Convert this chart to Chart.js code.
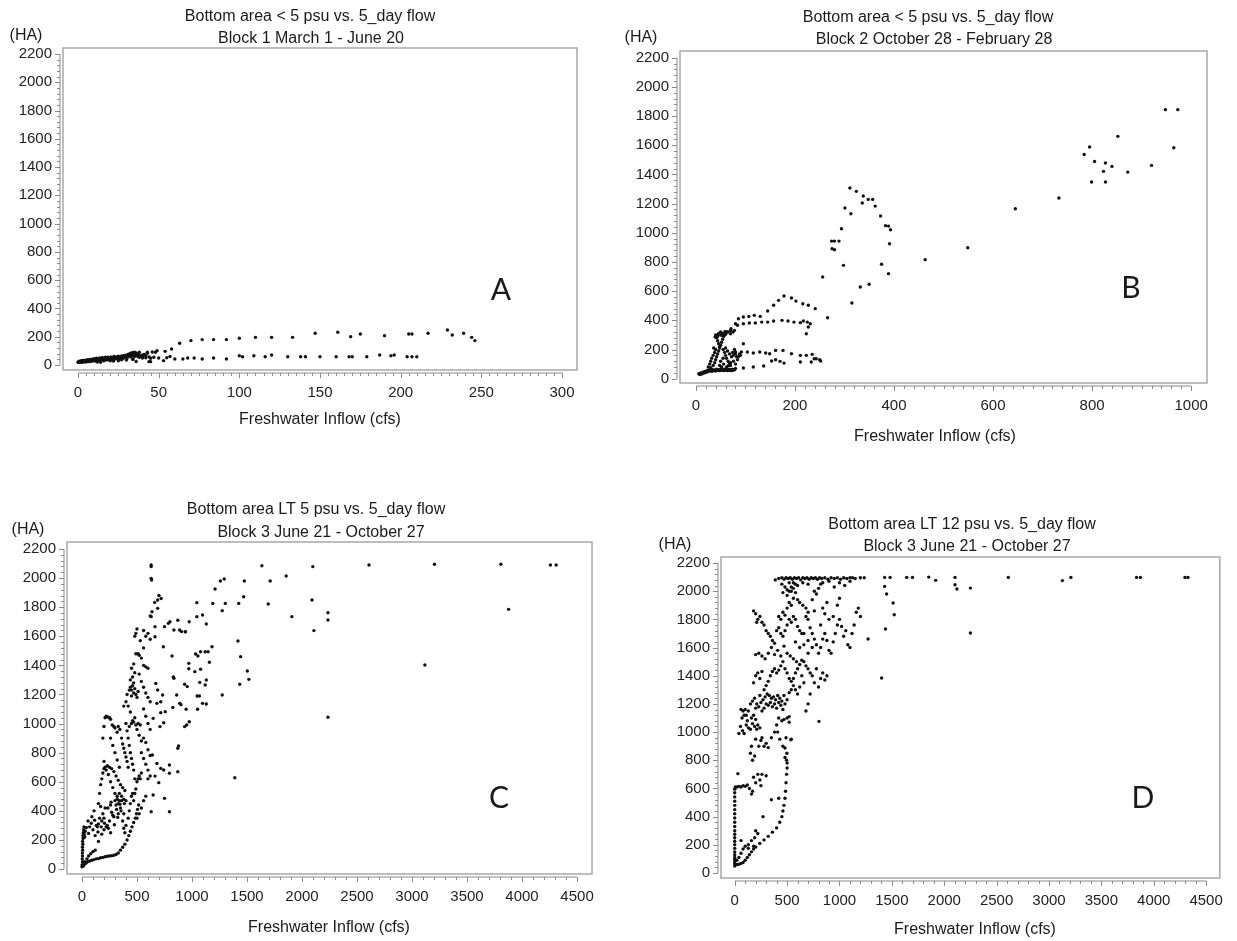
<!DOCTYPE html>
<html lang="en">
<head>
<meta charset="UTF-8">
<title>Bottom area vs. 5_day flow</title>
<style>
  body { margin: 0; background: #fff; }
  #wrap { position: relative; width: 1237px; height: 941px; }
  .panel { position: absolute; }
</style>
</head>
<body>
<div id="wrap">
  <div class="panel" style="left:0;top:0;width:618px;height:470px"><canvas id="chartA"></canvas></div>
  <div class="panel" style="left:618px;top:0;width:619px;height:470px"><canvas id="chartB"></canvas></div>
  <div class="panel" style="left:0;top:470px;width:618px;height:471px"><canvas id="chartC"></canvas></div>
  <div class="panel" style="left:618px;top:470px;width:619px;height:471px"><canvas id="chartD"></canvas></div>
</div>

<script src="https://cdn.jsdelivr.net/npm/chart.js"></script>
<script>
// tick labels
const yTicks = [0, 200, 400, 600, 800, 1000, 1200, 1400, 1600, 1800, 2000, 2200];
const xTicksA = [0, 50, 100, 150, 200, 250, 300];
const xTicksB = [0, 200, 400, 600, 800, 1000];
const xTicksC = [0, 500, 1000, 1500, 2000, 2500, 3000, 3500, 4000, 4500];

// [flow (cfs), area (HA)]
const pointsA = [
  [0,20],[0.5,25],[1,18],[1,28],[1.5,22],[2,30],[2,24],[2.5,19],[3,27],[3,33],[3.5,22],[4,30],[4,25],[4.5,35],[5,28],[5,22],
  [5.5,32],[6,38],[6,26],[6.5,30],[7,35],[7,24],[7.5,40],[8,30],[8,36],[8.5,27],[9,42],[9,33],[9.5,38],[10,30],[10,45],[10.5,36],
  [11,40],[11,28],[11.5,48],[12,35],[12,42],[12.5,30],[13,45],[13,38],[13.5,50],[14,33],[14,42],[14.5,47],[15,38],[15,52],[15.5,44],
  [16,30],[16,48],[16.5,40],[17,55],[17,45],[17.5,36],[18,50],[18,42],[18.5,56],[19,47],[19,38],[20,52],[20,44],[20.5,58],[21,48],
  [21,40],[22,55],[22,46],[22.5,60],[23,50],[23,42],[24,57],[24,48],[25,62],[25,52],[25.5,44],[26,58],[26,50],[27,64],[27,54],
  [28,60],[28,48],[28.5,68],[29,56],[29,63],[30,70],[30,58],[30.5,50],[31,75],[31,64],[32,80],[32,68],[32.5,58],[33,85],[33,74],
  [33.5,66],[34,88],[34,78],[34.5,70],[35,90],[35,82],[35,60],[36,86],[36,72],[37,78],[37,62],[38,70],[38,58],[39,64],[40,60],
  [40,72],[42,66],[44,58],[20,30],[25,30],[30,35],[14,20],[22,28],[34,40],[36,25],[45,24],[27,38],[12,22],
  [38,90],[43,83],[46,92],[49,102],[41,75],[38,55],[40,50],[42,52],[45,48],[47,55],[50,50],[55,52],[57,60],
  [43,90],[48,90],[54,97],[58,114],[63,154],[70,173],[77,180],[84,180],[92,180],[100,190],[110,196],[120,196],[133,196],
  [147,225],[161,232],[169,201],[175,220],[190,208],[205,220],[207,220],[217,225],[229,248],[232,213],[239,225],[244,196],[246,173],
  [34,43],[44,24],[53,31],[60,43],[65,43],[68,50],[72,50],[77,43],[84,50],[92,43],[100,66],[102,59],[109,66],[116,59],[120,71],
  [130,59],[138,59],[141,59],[150,59],[160,59],[168,59],[170,59],[179,59],[187,71],[194,66],[196,71],[204,59],[207,59],[210,59]
];

const pointsB = [
  [6,34],[8,28],[10,40],[12,32],[14,45],[16,38],[18,50],[20,42],[22,55],[24,48],[26,60],[28,52],[30,58],[32,50],[34,62],[36,55],
  [38,60],[40,52],[42,65],[44,58],[46,62],[48,55],[50,65],[52,58],[54,62],[56,55],[58,65],[60,58],[62,62],[64,55],[66,65],[68,58],
  [70,62],[72,55],[74,65],[76,58],[78,62],[80,70],[30,75],[35,90],[38,110],[40,130],[42,150],[44,170],[46,190],[48,210],[50,230],
  [52,250],[54,270],[56,290],[58,300],[40,300],[42,280],[44,260],[46,240],[48,220],[44,290],[46,310],[50,320],[54,310],[60,305],
  [65,320],[70,330],[75,320],[25,80],[28,100],[30,120],[32,140],[35,160],[38,180],[40,200],[36,210],[55,200],[58,180],[60,160],
  [62,140],[65,120],[68,100],[70,90],[72,150],[74,180],[76,160],[78,200],[80,170],[82,150],[60,210],[64,190],[68,170],[55,140],
  [50,120],[48,90],[52,80],[56,100],[62,80],[66,90],[70,110],[76,120],[80,100],[84,130],[86,150],[88,170],[90,160],
  [178,567],[193,553],[202,532],[216,514],[227,503],[241,480],[167,537],[157,503],[145,464],[130,427],[118,434],[107,427],[96,423],
  [86,411],[80,377],[71,343],[63,320],[53,308],[44,297],[39,286],
  [84,366],[96,377],[108,382],[120,382],[133,388],[145,388],[157,395],[174,400],[186,395],[198,388],[211,384],[217,395],[225,388],
  [231,377],[227,354],[223,308],[59,324],[51,297],[70,308],[78,331],
  [96,240],[80,183],[92,183],[104,183],[116,176],[129,183],[141,176],[149,171],[161,194],[176,194],[193,171],[211,160],[223,160],
  [235,167],[243,137],[250,130],[252,121],[239,137],[233,114],[211,114],[178,107],[170,119],[161,130],[153,121],[137,87],[116,80],[96,73],
  [311,1307],[324,1284],[338,1252],[336,1204],[348,1229],[357,1229],[362,1183],[301,1170],[313,1131],[373,1115],[383,1049],[389,1046],
  [393,1021],[294,1028],[274,943],[280,943],[289,943],[275,891],[280,884],[391,925],[298,777],[375,784],[389,720],[256,697],[332,628],
  [350,647],[315,519],[266,418],
  [948,1844],[973,1844],[852,1661],[795,1588],[965,1583],[784,1537],[805,1489],[827,1478],[840,1455],[920,1462],[823,1421],[872,1416],
  [799,1348],[827,1348],[733,1238],[645,1165],[549,898],[463,816]
];

const pointsC = [
  [0,15],[2,30],[5,50],[3,70],[5,90],[4,110],[6,130],[5,150],[8,170],[6,190],[10,210],[8,230],[12,250],[15,270],[18,290],[20,240],
  [25,220],[30,260],[10,20],[20,30],[35,40],[50,50],[70,55],[90,60],[110,65],[130,70],[150,72],[170,78],[190,80],[210,85],[230,88],
  [250,90],[270,92],[290,95],[310,100],[330,110],[350,130],[370,150],[390,170],[410,200],[425,230],[440,260],[455,290],[470,320],
  [485,350],[495,380],[505,410],[515,440],[25,50],[45,70],[60,90],[80,105],[100,120],[120,130],
  [40,285],[55,330],[70,290],[85,315],[100,270],[115,335],[130,300],[145,255],[160,350],[175,290],[190,380],[205,315],[220,290],
  [235,420],[250,330],[265,460],[280,370],[295,305],[310,440],[325,355],[340,470],[355,400],[370,330],[385,450],[60,245],[90,360],
  [120,230],[150,310],[180,240],[210,420],[240,280],[270,390],[300,470],[330,380],[110,400],[140,290],[170,430],[200,350],[230,300],
  [260,440],[290,360],[320,480],[350,420],[380,380],[150,190],[180,330],[200,270],[260,250],[345,445],[360,470],[330,450],[315,410],
  [150,450],[160,520],[170,580],[180,620],[190,660],[200,690],[210,700],[230,710],[250,700],[270,690],[290,670],[310,640],[330,610],
  [350,580],[370,560],[390,540],[200,740],[220,680],[240,650],[260,600],[280,560],[300,520],[320,500],[340,520],[360,500],[380,480],
  [400,470],[190,900],[200,980],[210,1040],[220,1050],[235,1045],[250,1040],[260,1030],[275,990],[290,980],[300,970],[320,940],
  [330,980],[345,960],[360,900],[370,860],[380,830],[390,800],[400,770],[410,740],[420,700],[260,900],[280,850],[300,800],[320,750],[340,700],
  [420,350],[430,400],[440,450],[450,500],[460,520],[470,470],[480,520],[490,550],[500,600],[510,620],[520,640],[530,620],[540,660],
  [480,620],[470,680],[460,720],[450,760],[440,800],[430,850],[420,900],[410,950],[400,1000],[430,980],[450,1000],[470,1010],[490,990],
  [510,1000],[530,990],[460,1020],[480,1040],[500,960],[520,920],[540,880],[560,900],[580,870],[600,820],[620,780],[440,1080],[420,1120],
  [400,1150],[380,1120],[410,1200],[430,1230],[440,1250],[450,1230],[460,1260],[470,1210],[480,1240],[490,1200],[500,1180],[510,1220],
  [450,1190],[470,1280],[440,1300],[460,1320],[480,1350],[450,1380],[470,1410],[490,1480],[510,1480],[520,1470],[480,1600],[500,1650],
  [490,1620],[530,1570],[560,1640],[580,1600],[600,1620],[620,1580],[560,1520],[540,1450],[560,1400],[580,1390],[600,1380],[520,1340],
  [540,1290],[560,1250],[580,1210],[600,1180],[620,1150],[560,1100],[580,1050],[600,1000],[620,960],[540,800],[560,760],[580,720],
  [600,680],[620,640],[600,620],[580,500],[560,470],[540,420],[520,380],[500,350],[400,300],[390,250],[380,280],
  [620,1740],[629,2079],[629,2090],[629,1998],[633,1987],[700,1880],[720,1860],[800,1700],[940,1630],[830,1320],[900,1130],
  [4310,2090],[4258,2090],[3808,2095],[3204,2095],[2609,2090],[2098,2079],[1635,2085],[1856,2014],[1711,1980],[1476,1980],[1293,1994],
  [1258,1980],[1210,1925],[3878,1785],[2091,1849],[2236,1762],[2236,1712],[1908,1735],[2108,1639],[3117,1403],[2236,1043],[1389,628],
  [1693,1822],[1470,1872],[1425,1826],[1303,1826],[1189,1826],[1044,1831],[1275,1776],[1096,1746],[1044,1735],[1130,1684],[1418,1568],
  [1442,1460],[1434,1270],[1503,1361],[1517,1304],[1275,1196],[1182,1528],[1147,1494],[1078,1494],[1120,1494],[1158,1421],[1033,1478],
  [1054,1464],[971,1414],[971,1377],[1026,1357],[1078,1373],[1130,1299],[1120,1265],[1071,1283],[1068,1189],[1047,1189],[1096,1139],
  [1130,1134],[1051,1098],[933,1270],[957,1254],[947,1098],[975,1013],[951,990],[933,979],[878,846],[871,830],[871,669],[861,1196],
  [888,1139],[836,1311],[826,1111],[819,1464],[871,1710],[888,1643],[905,1632],[940,1632],[975,1700],[836,1643],[785,1689],[750,1666],
  [740,1528],[664,1666],[688,1792],[661,1833],[636,1769],[629,1735],[688,1849],[664,1597],[671,1276],[688,1231],[681,1139],[733,1196],
  [716,1150],[716,1075],[757,1082],[743,1006],[709,979],[647,1036],[640,784],[681,726],[647,509],[629,394],[716,692],[743,681],[750,486],
  [795,394],[795,715],[795,658],[698,594],[664,639]
];

const pointsD = [
  [0,50],[0,65],[0,80],[0,95],[0,110],[0,130],[0,150],[0,175],[0,200],[0,225],[0,250],[0,275],[0,300],[0,330],[0,360],[0,390],
  [0,420],[0,450],[0,480],[0,510],[0,540],[0,570],[0,595],[5,610],
  [20,60],[40,62],[60,68],[80,75],[100,90],[120,110],[140,130],[160,150],[180,170],[200,185],[240,210],[280,235],[320,260],[360,290],
  [400,320],[430,360],[450,400],[460,440],[470,480],[480,530],[485,580],[490,640],[495,700],[500,745],[495,800],[498,850],[480,887],
  [535,946],[500,780],[20,90],[40,110],[60,140],[80,170],[100,190],[130,200],[160,230],[190,250],[220,280],[60,230],[130,175],[180,190],
  [270,400],[200,300],[20,610],[40,615],[60,610],[80,620],[100,615],[120,625],[30,705],[140,600],[160,560],[170,580],[200,640],[220,700],
  [240,660],[250,620],[260,700],[180,680],[300,690],[350,520],[420,530],
  [150,850],[170,800],[190,830],[160,900],[200,950],[230,900],[250,940],[260,960],[280,900],[300,920],[320,890],[350,960],[380,1000],
  [410,1000],[430,950],[460,900],[480,820],[490,960],[540,950],[400,1050],[420,1100],[450,1080],[470,1090],[500,1100],[520,1070],[520,1110],
  [40,990],[55,1040],[70,1100],[80,1150],[90,1120],[100,1160],[110,1120],[120,1080],[130,1150],[60,1160],[75,1010],[90,990],[110,1050],
  [130,1030],[150,1020],[170,1060],[190,1040],[210,1020],[160,1100],[180,1120],[200,1090],[220,1050],[240,1030],
  [150,1200],[170,1220],[190,1240],[210,1200],[230,1180],[250,1210],[270,1230],[290,1250],[310,1270],[330,1260],[350,1240],[370,1250],
  [390,1230],[410,1260],[430,1240],[450,1220],[470,1260],[200,1170],[240,1260],[260,1150],[280,1170],[300,1200],[320,1190],[340,1210],
  [360,1180],[380,1200],[400,1170],[420,1210],[440,1190],[460,1160],[480,1200],[500,1230],[520,1280],[540,1300],[560,1330],[580,1300],
  [600,1270],[620,1320],[640,1400],[660,1350],[700,1200],[720,1270],[680,1150],[180,1350],[200,1400],[220,1420],[240,1380],[260,1430],
  [280,1300],[300,1330],[320,1360],[340,1400],[360,1430],[380,1450],[400,1420],[420,1440],[440,1470],[460,1500],[480,1450],[500,1420],
  [520,1380],[540,1360],[560,1380],[580,1420],[600,1450],[620,1480],[640,1510],[660,1500],[680,1470],[700,1450],[720,1420],[740,1400],
  [760,1350],[780,1450],[800,1320],[820,1380],[840,1420],[860,1370],[880,1400],[200,1550],[230,1560],[260,1540],[290,1520],[320,1560],
  [350,1600],[380,1550],[410,1580],[440,1540],[470,1610],[500,1560],[530,1540],[560,1520],[590,1500],
  [180,1860],[200,1840],[220,1800],[240,1820],[260,1780],[280,1760],[210,1780],[300,1720],[320,1700],[340,1680],[360,1650],[380,1630],
  [400,1720],[420,1740],[440,1700],[460,1680],[480,1720],[500,1760],[520,1800],[540,1780],[560,1820],[580,1800],[600,1750],[620,1720],
  [640,1700],[420,1820],[440,1800],[460,1850],[480,1830],[500,1880],[520,1920],[540,1900],[560,1950],[500,1970],[520,2000],[540,2030],
  [560,2020],[580,1990],[600,1940],[620,1920],[650,1900],[680,1880],[700,1800],[720,1740],[740,1700],[760,1660],[780,1620],[800,1560],
  [820,1600],[840,1660],[860,1700],[880,1650],[900,1580],[920,1560],[940,1640],[960,1700],[980,1760],[1000,1800],[1020,1750],[1040,1680],
  [1060,1720],[1080,1620],[1100,1600],[1120,1700],[1140,1760],[1160,1850],[1180,1880],[1200,1820],[900,1800],[940,1820],[980,1900],
  [1000,1950],[880,1920],[860,1840],[840,1880],[820,1760],[760,1860],[740,1940],[760,2000],[780,1980],[820,2050],[840,2060],[680,1820],
  [700,1850],[660,1700],[700,1650],[740,1600],[700,1560],[660,1620],[620,1600],[580,1640],[1273,1661],
  [387,2080],[420,2090],[450,2095],[470,2085],[490,2095],[510,2090],[530,2095],[550,2085],[570,2095],[590,2090],[610,2095],[630,2080],
  [650,2095],[670,2090],[690,2095],[710,2085],[730,2095],[750,2090],[770,2095],[790,2085],[810,2095],[830,2090],[860,2095],[890,2085],
  [920,2095],[950,2090],[980,2095],[1010,2085],[1040,2095],[1070,2090],[1100,2095],[1125,2095],[1150,2090],[1199,2095],[1236,2095],
  [1431,2098],[1483,2098],[1642,2098],[1697,2098],[1852,2100],[2103,2098],[2612,2098],[3209,2098],[3836,2098],[3873,2098],[4298,2098],
  [4327,2098],[3128,2075],[1918,2077],[2103,2046],[2121,2015],[2250,2022],[2250,1703],[1431,2034],[1450,1980],[1512,1916],[1523,1833],
  [1439,1732],[1402,1384],[804,1076],[450,2050],[480,2030],[520,2060],[560,2060],[600,2040],[650,2060],[700,2050],[500,2010],[540,2000],
  [460,1990],[580,2050],[900,2070],[1000,2060],[1100,2070],[1050,2040],[950,2030],[800,2020]
];

const FONT = "'Liberation Sans', Arial, sans-serif";

// frame, offset axes with minor ticks, titles and panel letter
const panelDecor = {
  id: 'panelDecor',
  afterDraw(chart, args, o) {
    const { ctx, chartArea: a, scales: { x, y } } = chart;
    ctx.save();
    ctx.strokeStyle = '#a8a8a8';
    ctx.lineWidth = 1.5;
    ctx.strokeRect(a.left, a.top, a.right - a.left, a.bottom - a.top);

    ctx.strokeStyle = '#8a8a8a';
    ctx.lineWidth = 1;
    const yT = o.yTicks, xT = o.xTicks;
    const ax = a.left - 3, ay = a.bottom + 3;
    ctx.beginPath();
    ctx.moveTo(ax, y.getPixelForValue(yT[0]));
    ctx.lineTo(ax, y.getPixelForValue(yT[yT.length - 1]));
    for (let v = yT[0]; v <= yT[yT.length - 1]; v += o.yMinor) {
      const p = Math.round(y.getPixelForValue(v)) + 0.5;
      ctx.moveTo(ax - (yT.includes(v) ? 5 : 3), p);
      ctx.lineTo(ax, p);
    }
    ctx.moveTo(x.getPixelForValue(xT[0]), ay);
    ctx.lineTo(x.getPixelForValue(xT[xT.length - 1]), ay);
    for (let v = xT[0]; v <= xT[xT.length - 1]; v += o.xMinor) {
      const p = Math.round(x.getPixelForValue(v)) + 0.5;
      ctx.moveTo(p, ay);
      ctx.lineTo(p, ay + (xT.includes(v) ? 5 : 3));
    }
    ctx.stroke();

    ctx.fillStyle = '#1a1a1a';
    ctx.textAlign = 'center';
    ctx.textBaseline = 'middle';
    ctx.font = '16px ' + FONT;
    o.texts.forEach(t => ctx.fillText(t[0], t[1], t[2]));
    ctx.font = "30px Lato, 'Open Sans', sans-serif";
    ctx.fillText(o.letter[0], o.letter[1], o.letter[2]);
    ctx.restore();
  }
};

function makePanel(id, pts, xTicks, xRange, yRange, area, size, decor) {
  const tickFont = { family: FONT, size: 15 };
  return new Chart(document.getElementById(id), {
    type: 'scatter',
    data: {
      datasets: [{
        data: pts.map(p => ({ x: p[0], y: p[1] })),
        backgroundColor: '#111',
        borderWidth: 0,
        pointRadius: 1.7,
        pointHoverRadius: 1.7
      }]
    },
    options: {
      responsive: true,
      maintainAspectRatio: false,
      animation: false,
      events: [],
      layout: { padding: { left: 0, top: area[1], right: size[0] - area[2], bottom: 0 } },
      scales: {
        x: {
          type: 'linear', min: xRange[0], max: xRange[1],
          grid: { display: false, drawTicks: false }, border: { display: false },
          afterBuildTicks: s => { s.ticks = xTicks.map(v => ({ value: v })); },
          afterFit: s => { s.height = size[1] - area[3]; },
          ticks: { font: tickFont, color: '#222', padding: 14, maxRotation: 0, autoSkip: false, callback: v => String(v) }
        },
        y: {
          type: 'linear', min: yRange[0], max: yRange[1],
          grid: { display: false, drawTicks: false }, border: { display: false },
          afterBuildTicks: s => { s.ticks = yTicks.map(v => ({ value: v })); },
          afterFit: s => { s.width = area[0]; },
          ticks: { font: tickFont, color: '#222', padding: 11, autoSkip: false, callback: v => String(v) }
        }
      },
      plugins: {
        legend: { display: false },
        tooltip: { enabled: false },
        panelDecor: Object.assign({ xTicks: xTicks, yTicks: yTicks }, decor)
      }
    },
    plugins: [panelDecor]
  });
}

makePanel('chartA', pointsA, xTicksA, [-9.3, 309.3], [-35, 2242], [63, 48, 577, 370], [618, 470], {
  xMinor: 5, yMinor: 40,
  texts: [
    ['Bottom area < 5 psu vs. 5_day flow', 310, 17],
    ['Block 1 March 1 - June 20', 311, 39],
    ['(HA)', 26, 36],
    ['Freshwater Inflow (cfs)', 320, 420]
  ],
  letter: ['A', 501, 290]
});

makePanel('chartB', pointsB, xTicksB, [-32, 1032], [-29.5, 2246], [62, 51, 589, 383], [619, 470], {
  xMinor: 20, yMinor: 40,
  texts: [
    ['Bottom area < 5 psu vs. 5_day flow', 310, 18],
    ['Block 2 October 28 - February 28', 316, 40],
    ['(HA)', 23, 38],
    ['Freshwater Inflow (cfs)', 317, 437]
  ],
  letter: ['B', 513, 288]
});

makePanel('chartC', pointsC, xTicksC, [-136, 4636], [-34, 2248], [67, 72, 592, 404], [618, 471], {
  xMinor: 100, yMinor: 40,
  texts: [
    ['Bottom area LT 5 psu vs. 5_day flow', 316, 40],
    ['Block 3 June 21 - October 27', 321, 63],
    ['(HA)', 28, 60],
    ['Freshwater Inflow (cfs)', 329, 458]
  ],
  letter: ['C', 499, 328]
});

makePanel('chartD', pointsD, xTicksC, [-131, 4631], [-35.5, 2242.6], [103, 87, 612, 408], [619, 471], {
  xMinor: 100, yMinor: 40,
  texts: [
    ['Bottom area LT 12 psu vs. 5_day flow', 344, 55],
    ['Block 3 June 21 - October 27', 349, 77],
    ['(HA)', 57, 75],
    ['Freshwater Inflow (cfs)', 357, 460]
  ],
  letter: ['D', 525, 328]
});
</script>
</body>
</html>
